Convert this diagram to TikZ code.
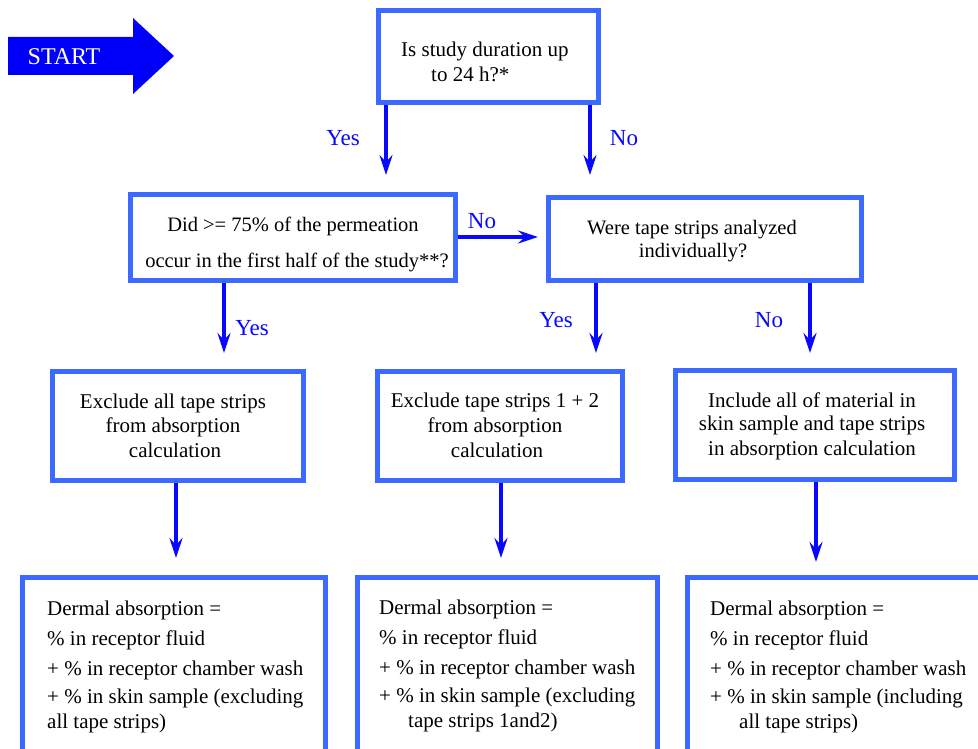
\documentclass[tikz,border=0pt]{standalone}
\usepackage{fontspec}
\setmainfont{Liberation Serif}
\usetikzlibrary{arrows.meta}
\definecolor{boxblue}{RGB}{60,105,255}
\definecolor{arrblue}{RGB}{8,8,255}
\definecolor{startblue}{RGB}{0,0,250}
\begin{document}
\begin{tikzpicture}[x=1pt,y=-1pt,
  box/.style={draw=boxblue, line width=5pt, fill=white, inner sep=0pt},
  txt/.style={font=\fontsize{20.5}{24}\selectfont, inner sep=0pt, text=black},
  mtxt/.style={font=\fontsize{21}{24}\selectfont, inner sep=0pt, text=black},
  lbl/.style={font=\fontsize{23}{26}\selectfont, inner sep=0pt, text=arrblue, anchor=base},
  arr/.style={draw=arrblue, line width=4.5pt, -{Stealth[length=20pt,width=13pt,inset=7pt]}}]
\useasboundingbox (0,0) rectangle (978,749);
\clip (0,0) rectangle (978,749);
\fill[white] (0,0) rectangle (978,749);

% start arrow
\fill[startblue] (8,37) -- (133,37) -- (133,18) -- (174,56) -- (133,94) -- (133,75) -- (8,75) -- cycle;
\node[txt, font=\fontsize{24}{26}\selectfont, text=white, anchor=base] (start) at (64,65) {START};

% x positions of connectors
\coordinate (c1) at (386,0);
\coordinate (c2) at (590,0);
\coordinate (c3) at (224,0);
\coordinate (c4) at (596,0);
\coordinate (c5) at (810,0);
\coordinate (c6) at (176,0);
\coordinate (c7) at (501,0);
\coordinate (c8) at (816,0);
\coordinate (r1) at (0,237);

% boxes
\node[box, minimum width=220pt, minimum height=92pt] (b1) at (488.5,56.5) {};
\node[box, minimum width=325pt, minimum height=86pt] (b2) at (293,237.5) {};
\node[box, minimum width=313pt, minimum height=83pt] (b3) at (705,239) {};
\node[box, minimum width=251pt, minimum height=109pt] (b4) at (178,426) {};
\node[box, minimum width=245pt, minimum height=109pt] (b5) at (500,426) {};
\node[box, minimum width=279pt, minimum height=109pt] (b6) at (815,425) {};
\node[box, minimum width=303pt, minimum height=220pt] (b7) at (174,687.5) {};
\node[box, minimum width=300pt, minimum height=220pt] (b8) at (507.5,687.5) {};
\node[box, minimum width=310pt, minimum height=220pt] (b9) at (842.5,687.5) {};

% connectors
\draw[arr, shorten >=17pt] (b1.south -| c1) -- (b2.north -| c1);
\draw[arr, shorten >=20pt] (b1.south -| c2) -- (b3.north -| c2);
\draw[arr, shorten >=8pt] (b2.east |- r1) -- (b3.west |- r1);
\draw[arr, shorten >=16pt] (b2.south -| c3) -- (b4.north -| c3);
\draw[arr, shorten >=16pt] (b3.south -| c4) -- (b5.north -| c4);
\draw[arr, shorten >=15pt] (b3.south -| c5) -- (b6.north -| c5);
\draw[arr, shorten >=17pt] (b4.south -| c6) -- (b7.north -| c6);
\draw[arr, shorten >=17pt] (b5.south -| c7) -- (b8.north -| c7);
\draw[arr, shorten >=13pt] (b6.south -| c8) -- (b9.north -| c8);

% labels
\node[lbl] (y1) at (343,146) {Yes};
\node[lbl] (n1) at (624,146) {No};
\node[lbl] (n2) at (482,229) {No};
\node[lbl] (y2) at (252,335) {Yes};
\node[lbl] (y3) at (556,327) {Yes};
\node[lbl] (n3) at (769,327) {No};

% box texts
\node[mtxt, anchor=base west] (t1a) at (401,57) {Is study duration up};
\node[mtxt, anchor=base west] (t1b) at (431,82) {to 24 h?*};

\node[txt, anchor=base] (t2a) at (293,232) {Did >= 75\% of the permeation};
\node[txt, anchor=base] (t2b) at (297,267) {occur in the first half of the study**?};

\node[txt, anchor=base] (t3a) at (692,234) {Were tape strips analyzed};
\node[txt, anchor=base] (t3b) at (693,258) {individually?};

\node[mtxt, anchor=base] (t4a) at (173,408) {Exclude all tape strips};
\node[mtxt, anchor=base] (t4b) at (173,432) {from absorption};
\node[mtxt, anchor=base] (t4c) at (175,457) {calculation};

\node[mtxt, anchor=base] (t5a) at (495,407) {Exclude tape strips 1 + 2};
\node[mtxt, anchor=base] (t5b) at (495,432) {from absorption};
\node[mtxt, anchor=base] (t5c) at (497,457) {calculation};

\node[mtxt, anchor=base] (t6a) at (812,407) {Include all of material in};
\node[mtxt, anchor=base] (t6b) at (812,430) {skin sample and tape strips};
\node[mtxt, anchor=base] (t6c) at (812,455) {in absorption calculation};

\node[mtxt, anchor=base west] (t7a) at (47,615) {Dermal absorption =};
\node[mtxt, anchor=base west] (t7b) at (47,645) {\% in receptor fluid};
\node[mtxt, anchor=base west] (t7c) at (47,675) {+ \% in receptor chamber wash};
\node[mtxt, anchor=base west] (t7d) at (47,703) {+ \% in skin sample (excluding};
\node[mtxt, anchor=base west] (t7e) at (47,728) {all tape strips)};

\node[mtxt, anchor=base west] (t8a) at (379,614) {Dermal absorption =};
\node[mtxt, anchor=base west] (t8b) at (379,644) {\% in receptor fluid};
\node[mtxt, anchor=base west] (t8c) at (379,674) {+ \% in receptor chamber wash};
\node[mtxt, anchor=base west] (t8d) at (379,702) {+ \% in skin sample (excluding};
\node[mtxt, anchor=base west] (t8e) at (408,727) {tape strips 1and2)};

\node[mtxt, anchor=base west] (t9a) at (710,615) {Dermal absorption =};
\node[mtxt, anchor=base west] (t9b) at (710,645) {\% in receptor fluid};
\node[mtxt, anchor=base west] (t9c) at (710,675) {+ \% in receptor chamber wash};
\node[mtxt, anchor=base west] (t9d) at (710,703) {+ \% in skin sample (including};
\node[mtxt, anchor=base west] (t9e) at (739,728) {all tape strips)};
\end{tikzpicture}
\end{document}
